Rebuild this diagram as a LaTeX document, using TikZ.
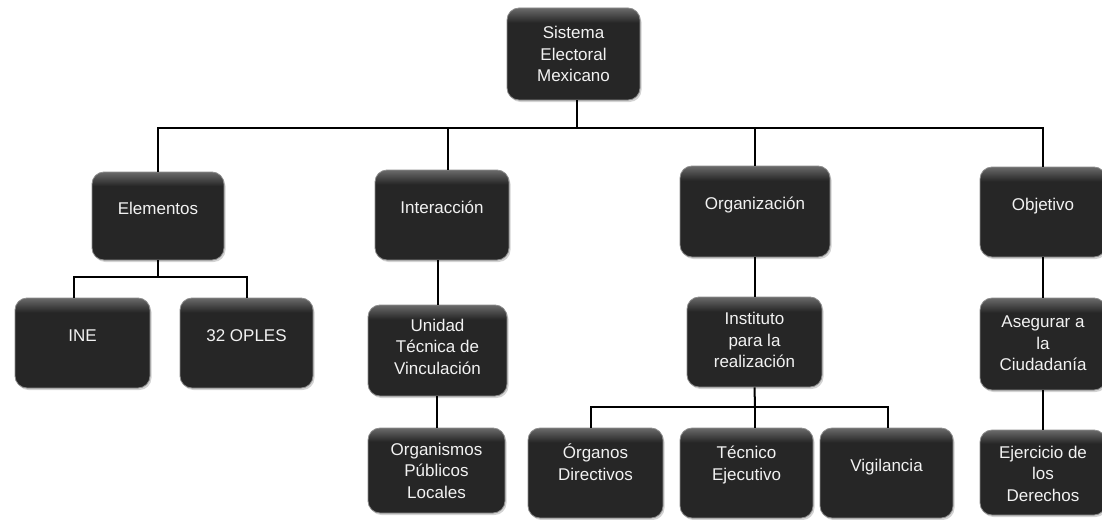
\documentclass[tikz,border=0pt]{standalone}
\usepackage{fontspec}
\setmainfont{Liberation Sans}
\usetikzlibrary{shadows}
\definecolor{boxdark}{HTML}{262626}
\definecolor{boxlight}{HTML}{6A6A6A}
\definecolor{boxrim}{HTML}{8C8C8C}
\definecolor{txtc}{HTML}{F2F2F2}
\pgfdeclareverticalshading{boxshade}{100bp}{color(0bp)=(boxdark); color(25bp)=(boxdark); color(67bp)=(boxdark); color(75bp)=(boxlight); color(100bp)=(boxlight)}
\newcommand{\bt}[2]{\raisebox{#1}[\height][\depth]{\begin{tabular}{@{}c@{}}#2\end{tabular}}}
\begin{document}
\begin{tikzpicture}[x=1pt,y=-1pt,
  box/.style={rounded corners=12pt, draw=boxrim, line width=0.8pt, shading=boxshade,
    text=txtc, font=\fontsize{17}{21.5}\selectfont, inner sep=0pt,
    drop shadow={shadow xshift=1.5pt,shadow yshift=-2pt,opacity=.35}},
  bsize/.style 2 args={minimum width=#1pt, minimum height=#2pt},
  conn/.style={line width=2pt, draw=black}]
\useasboundingbox (0,0) rectangle (1102,519);

% level 0
\node[box,bsize={133}{92}] (root) at (573.5,54) {\bt{-2pt}{Sistema\\Electoral\\Mexicano}};
% level 1
\node[box,bsize={132}{88}] (elem) at (158,216) {\bt{6pt}{Elementos}};
\node[box,bsize={134}{90}] (inter) at (442,215) {\bt{6pt}{Interacción}};
\node[box,bsize={150}{91}] (org) at (755,211.5) {\bt{6pt}{Organización}};
\node[box,bsize={126}{90}] (obj) at (1043,212) {\bt{6pt}{Objetivo}};
% level 2
\node[box,bsize={135}{90}] (ine) at (82.5,343) {\bt{6pt}{INE}};
\node[box,bsize={133}{90}] (oples) at (246.5,343) {\bt{6pt}{32 OPLES}};
\node[box,bsize={139}{91}] (unidad) at (437.5,350.5) {\bt{2pt}{Unidad\\Técnica de\\Vinculación}};
\node[box,bsize={135}{90}] (inst) at (754.5,342) {\bt{0pt}{Instituto\\para la\\realización}};
\node[box,bsize={126}{92}] (aseg) at (1043,344) {\bt{-1pt}{Asegurar a\\la\\Ciudadanía}};
% level 3
\node[box,bsize={137}{85}] (organ) at (436.5,470.5) {\bt{-2pt}{Organismos\\Públicos\\Locales}};
\node[box,bsize={135}{90}] (organos) at (595.5,473) {\bt{8pt}{Órganos\\Directivos}};
\node[box,bsize={133}{90}] (tecnico) at (746.5,473) {\bt{8pt}{Técnico\\Ejecutivo}};
\node[box,bsize={133}{90}] (vig) at (886.5,473) {\bt{6pt}{Vigilancia}};
\node[box,bsize={126}{85}] (ejer) at (1043,472.5) {\bt{-3pt}{Ejercicio de\\los\\Derechos}};

% connectors
\coordinate (bus) at (577,128);
\coordinate (iT) at ([xshift=6]inter.north);
\draw[conn] (root.south -| bus) -- (bus);
\draw[conn] (elem.north) |- (bus) -| (obj.north);
\draw[conn] (iT) -- (iT |- bus);
\draw[conn] (org.north) -- (org.north |- bus);

\coordinate (ebus) at (158,277);
\coordinate (ineT) at ([xshift=-9]ine.north);
\draw[conn] (elem.south) -- (ebus);
\draw[conn] (ineT) |- (ebus) -| (oples.north);

\draw[conn] (unidad.north) -- (unidad.north |- inter.south);
\draw[conn] (organ.north) -- (organ.north |- unidad.south);
\draw[conn] (inst.north) -- (inst.north |- org.south);

\coordinate (ibus) at (755,407);
\coordinate (orgT) at ([xshift=-5]organos.north);
\coordinate (vigT) at ([xshift=1.5]vig.north);
\draw[conn] (inst.south) -- (ibus);
\draw[conn] (orgT) |- (ibus) -| (vigT);
\draw[conn] (ibus) -- (ibus |- tecnico.north);

\draw[conn] (aseg.north) -- (aseg.north |- obj.south);
\draw[conn] (ejer.north) -- (ejer.north |- aseg.south);
\end{tikzpicture}
\end{document}
